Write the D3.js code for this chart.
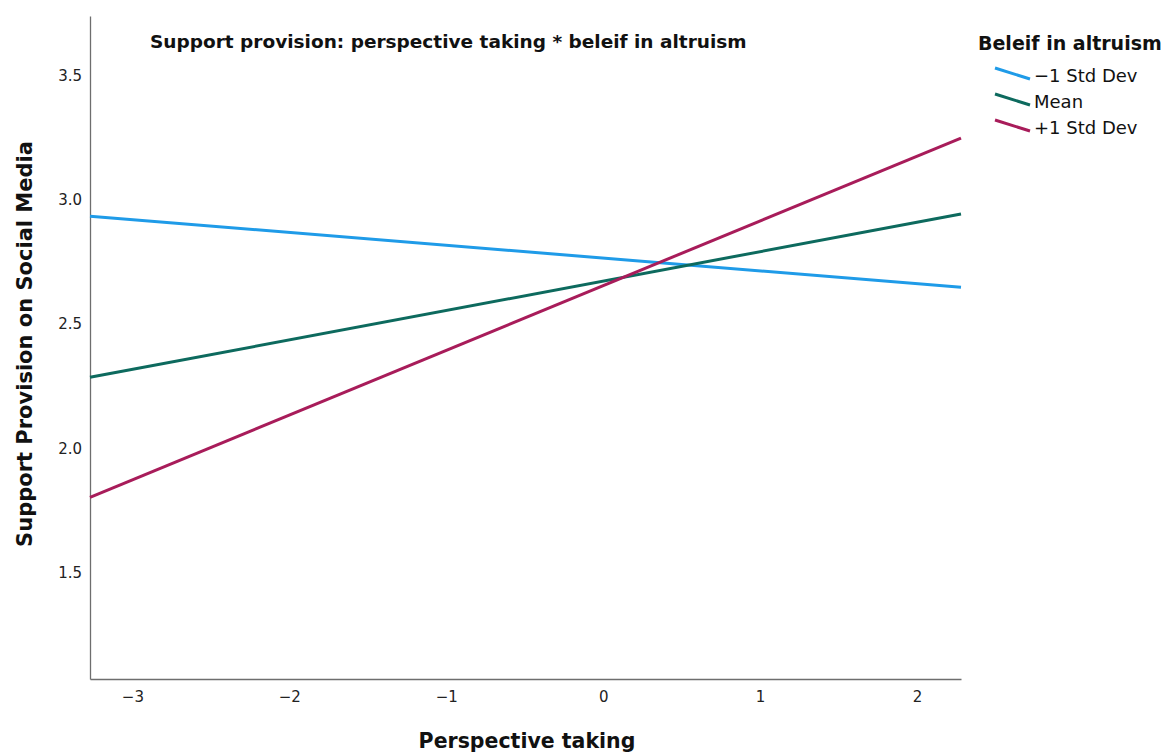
<!DOCTYPE html>
<html>
<head>
<meta charset="utf-8">
<script src="https://cdn.jsdelivr.net/npm/d3@7"></script>
<style>
  body { margin: 0; background: #fff; }
  text { font-family: "DejaVu Sans", sans-serif; }
</style>
</head>
<body>
<script>
// data
var xRange = [-3.27, 2.28]
var xTicks = [-3, -2, -1, 0, 1, 2]
var yTicks = [1.5, 2.0, 2.5, 3.0, 3.5]
var groups = ['\u22121 Std Dev', 'Mean', '+1 Std Dev']
var lowValues = [2.935, 2.649]
var meanValues = [2.286, 2.944]
var highValues = [1.802, 3.25]
var colors = ['#1f9be8', '#0d6a5e', '#a81c5a']

var W = 1167, H = 754
var margin = { top: 16, right: 206, bottom: 75, left: 90 }
var width = W - margin.left - margin.right,
    height = H - margin.top - margin.bottom

var x = d3.scaleLinear().domain(xRange).range([0, width])
var y = d3.scaleLinear().domain([1.07, 3.742]).range([height, 0])

var svgRoot = d3.select('body').append('svg')
    .attr('width', W)
    .attr('height', H)
var svg = svgRoot.append('g')
    .attr('transform', 'translate(' + margin.left + ',' + margin.top + ')')

// axes, no tick marks
var xAxis = svg.append('g')
    .attr('transform', 'translate(0,' + height + ')')
    .call(d3.axisBottom(x).tickValues(xTicks).tickSize(0).tickPadding(12)
        .tickFormat(d => d < 0 ? '\u2212' + Math.abs(d) : d))
var yAxis = svg.append('g')
    .call(d3.axisLeft(y).tickValues(yTicks).tickSize(0).tickPadding(8).tickFormat(d3.format('.1f')))

;[xAxis, yAxis].forEach(a => {
    a.select('.domain').attr('stroke', '#6e6e6e').attr('stroke-width', 1.3)
    a.selectAll('text').attr('font-size', 15).attr('fill', '#222')
        .attr('font-family', '"DejaVu Sans", sans-serif')
})

// lines
var line = d3.line().x((d, i) => x(xRange[i])).y(d => y(d))
var series = [lowValues, meanValues, highValues]
svg.selectAll('.series')
    .data(series)
    .enter().append('path')
    .attr('class', 'series')
    .attr('d', line)
    .attr('fill', 'none')
    .attr('stroke', (d, i) => colors[i])
    .attr('stroke-width', 3)

// chart title
svg.append('text')
    .attr('x', 60)
    .attr('y', 32)
    .attr('font-size', 18.5)
    .attr('font-weight', 'bold')
    .attr('fill', '#111')
    .text('Support provision: perspective taking * beleif in altruism')

// x label
svgRoot.append('text')
    .attr('x', 527)
    .attr('y', 748)
    .attr('text-anchor', 'middle')
    .attr('font-size', 20.5)
    .attr('font-weight', 'bold')
    .attr('fill', '#111')
    .text('Perspective taking')

// y label
svgRoot.append('text')
    .attr('transform', 'translate(32,344) rotate(-90)')
    .attr('text-anchor', 'middle')
    .attr('font-size', 21)
    .attr('font-weight', 'bold')
    .attr('fill', '#111')
    .text('Support Provision on Social Media')

// legend
var legend = svgRoot.append('g').attr('transform', 'translate(978,0)')
legend.append('text')
    .attr('x', 0)
    .attr('y', 50)
    .attr('font-size', 19)
    .attr('font-weight', 'bold')
    .attr('fill', '#111')
    .text('Beleif in altruism')

var item = legend.selectAll('.item')
    .data(groups)
    .enter().append('g')
    .attr('class', 'item')
    .attr('transform', (d, i) => 'translate(0,' + (74 + i * 26) + ')')
item.append('line')
    .attr('x1', 17).attr('y1', -6)
    .attr('x2', 52).attr('y2', 5)
    .attr('stroke', (d, i) => colors[i])
    .attr('stroke-width', 3)
item.append('text')
    .attr('x', 56)
    .attr('y', 8)
    .attr('font-size', 18)
    .attr('fill', '#111')
    .text(d => d)
</script>
</body>
</html>
